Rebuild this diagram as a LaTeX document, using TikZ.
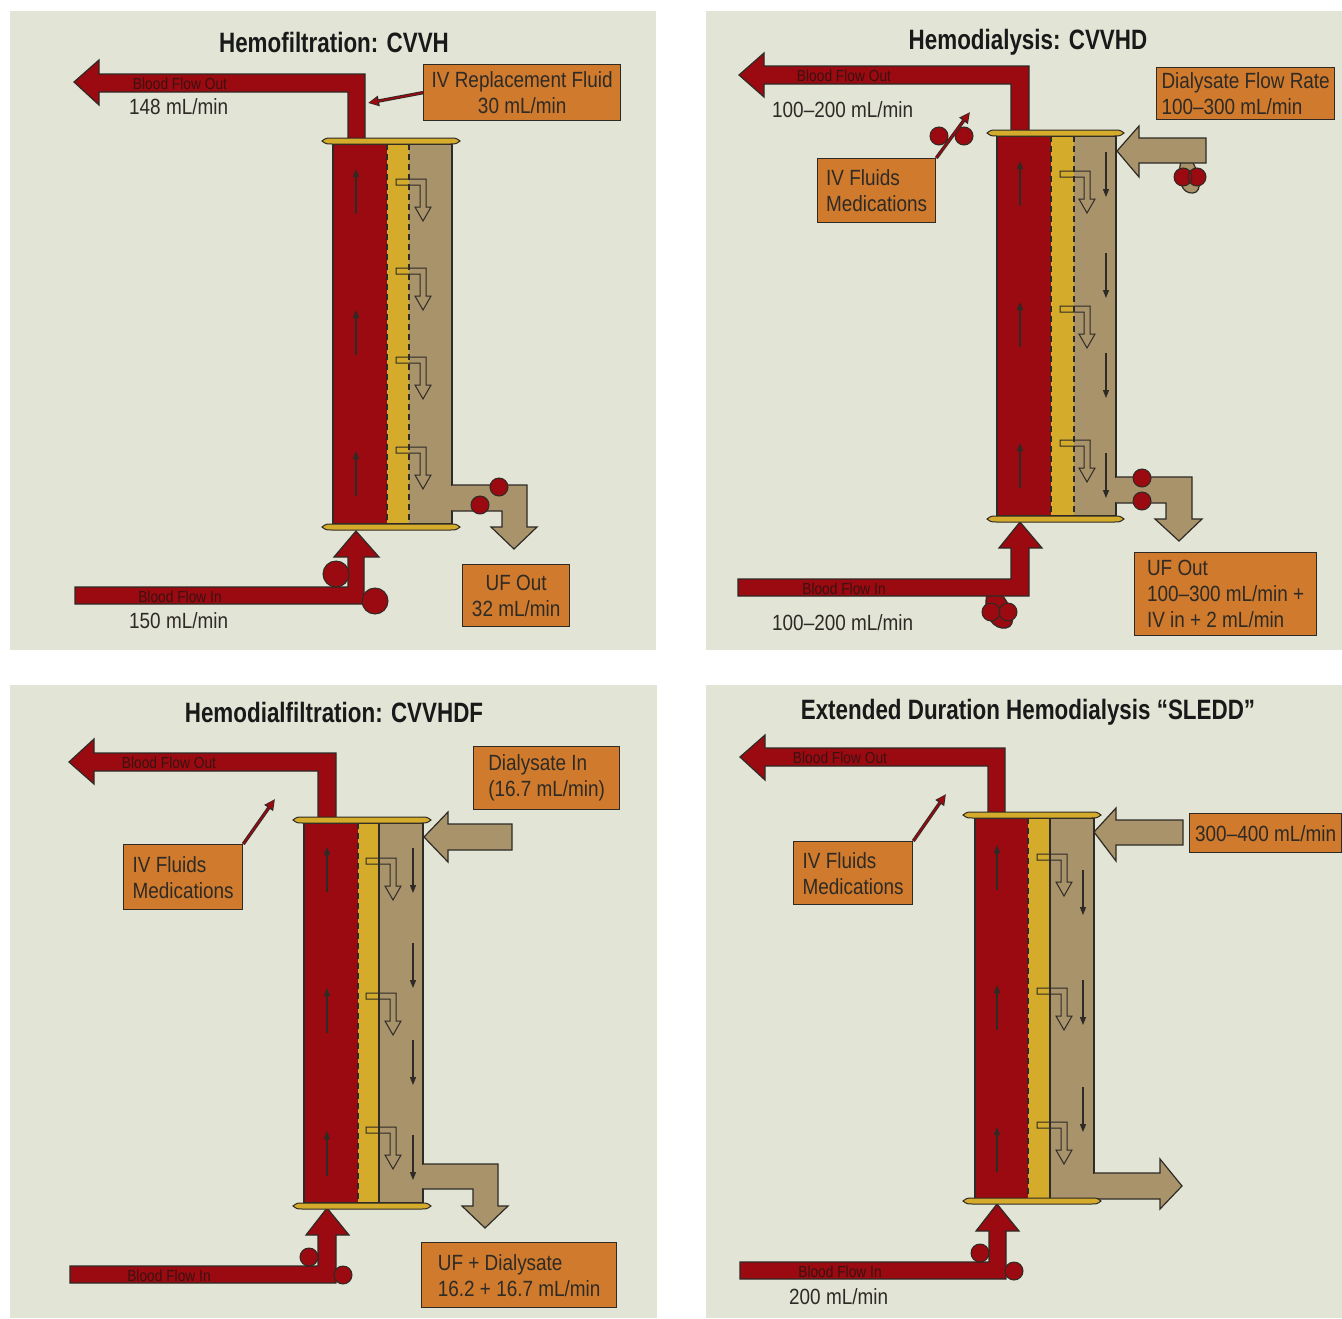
\documentclass[tikz,border=0pt]{standalone}
\usepackage{fontspec}
\setmainfont{Liberation Sans}[FakeStretch=0.86]
\newfontfamily\headfamily{Liberation Sans}[FakeStretch=0.8]
\usepackage{tikz}
\usetikzlibrary{arrows.meta}

\definecolor{panelbg}{HTML}{E2E4D6}
\definecolor{bloodred}{HTML}{9A0A10}
\definecolor{capgold}{HTML}{D4AB2B}
\definecolor{dialtan}{HTML}{A8936A}
\definecolor{boxorange}{HTML}{CF7A2C}
\definecolor{inkdark}{HTML}{2E2A26}
\definecolor{pipeink}{HTML}{3A1212}

\newcommand{\labelsize}{\fontsize{22}{26}\selectfont}
\newcommand{\pipesize}{\fontsize{16}{18}\selectfont}
\newcommand{\headsize}{\headfamily\bfseries\fontsize{28}{32}\selectfont}

\tikzset{
  outline/.style={draw=inkdark, line width=1.2pt},
  bloodpipe/.style={outline, fill=bloodred},
  tanpipe/.style={outline, fill=dialtan},
  roller/.style={outline, fill=bloodred, line width=1pt},
  flowtick/.style={draw=inkdark, line width=1.2pt, -{Triangle[length=8pt,width=6pt]}},
  bentline/.style={draw=inkdark, line width=1pt, line join=miter},
  membrane/.style={dash pattern=on 6pt off 4pt},
  ivshadow/.style={draw=inkdark, line width=3.4pt, -{Triangle[length=11pt,width=10pt]}},
  ivline/.style={draw=bloodred, line width=1.6pt, shorten >=1.5pt, -{Triangle[length=8pt,width=7pt]}},
  infobox/.style={rectangle, fill=boxorange, draw=inkdark, line width=1.3pt,
    font=\labelsize, text=inkdark, align=left, inner sep=0pt, anchor=north west},
  ratelabel/.style={font=\labelsize, text=inkdark, anchor=base west, inner sep=0pt},
  pipelabel/.style={font=\pipesize, text=pipeink, anchor=base, inner sep=0pt},
  paneltitle/.style={font=\headsize, text=black!90, anchor=base, inner sep=0pt},
}

% filter body: left, red|gold, gold|tan, right, top, bottom, gold|tan line
\newcommand{\filtercol}[7]{%
  \fill[bloodred] (#1,#5) rectangle (#2,#6);
  \fill[capgold] (#2,#5) rectangle (#3,#6);
  \fill[dialtan] (#3,#5) rectangle (#4,#6);
  \draw[outline,membrane] (#2,#5) -- (#2,#6);
  \draw[outline,#7] (#3,#5) -- (#3,#6);
  \draw[outline] (#1,#5) rectangle (#4,#6);
}
% header / footer plate of the filter
\newcommand{\filtercap}[3]{%
  \draw[outline, line width=1pt, fill=capgold] (#1,#3) .. controls (#1+4,#3-3) .. (#1+10,#3-3)
    -- (#2-10,#3-3) .. controls (#2-4,#3-3) .. (#2,#3) .. controls (#2-4,#3+3) .. (#2-10,#3+3)
    -- (#1+10,#3+3) .. controls (#1+4,#3+3) .. (#1,#3) -- cycle;
}
% hollow bent arrow through the membrane
\newcommand{\bentarrow}[2]{%
  \draw[bentline] (#1,#2) -- ++(30,0) -- ++(0,28) -- ++(5,0) -- ++(-8,14)
    -- ++(-8,-14) -- ++(5,0) -- ++(0,-22) -- ++(-24,0) -- cycle;
}

\begin{document}
\begin{tikzpicture}[x=1pt,y=-1pt]
\useasboundingbox (0,0) rectangle (1342,1318);
\fill[white] (0,0) rectangle (1342,1318);

%%% CVVH
\fill[panelbg] (10,11) rectangle (656,650);
\node[paneltitle] (cvvh) at (334,52) {Hemofiltration: CVVH};
\draw[bloodpipe] (365,141) -- (365,74) -- (99,74) -- (99,60) -- (74,82) -- (99,105)
  -- (99,92) -- (348,92) -- (348,141) -- cycle;
\draw[bloodpipe] (348,557) -- (334,557) -- (356,531) -- (379,557) -- (364,557)
  -- (364,604) -- (75,604) -- (75,587) -- (348,587) -- cycle;
\filtercol{333}{387}{409}{452}{144}{524}{membrane}
% ultrafiltrate drain
\draw[tanpipe] (452,485) -- (527,485) -- (527,527) -- (537,527) -- (514,549)
  -- (491,527) -- (502,527) -- (502,511) -- (452,511);
\fill[dialtan] (450.4,486) rectangle (453.6,510);
\filtercap{322}{460}{141}
\filtercap{322}{460}{527}
\foreach \y in {169,310,451} {\draw[flowtick] (356,\y+45) -- (356,\y);}
\foreach \y in {179,268,357,447} {\bentarrow{396}{\y}}
\draw[roller] (336,574) circle (13pt) (375,601) circle (13pt);
\draw[roller] (499,487) circle (9pt) (480,505) circle (9pt);
\node[pipelabel] (cvvhout) at (180,89) {Blood Flow Out};
\node[ratelabel] (cvvhoutrate) at (129,114) {148 mL/min};
\node[pipelabel] (cvvhin) at (180,602) {Blood Flow In};
\node[ratelabel] (cvvhinrate) at (129,628) {150 mL/min};
\node[infobox, align=center, minimum width=197pt, minimum height=56pt] (cvvhrepl) at (423,64)
  {IV Replacement Fluid\\30 mL/min};
\coordinate (cvvhport) at (368,103);
\draw[ivshadow] (cvvhrepl.west) -- (cvvhport);
\draw[ivline] (cvvhrepl.west) -- (cvvhport);
\node[infobox, align=center, minimum width=107pt, minimum height=62pt] (cvvhuf) at (462,564)
  {UF Out\\32 mL/min};

%%% CVVHD
\fill[panelbg] (706,11) rectangle (1342,650);
\node[paneltitle] (cvvhd) at (1028,49) {Hemodialysis: CVVHD};
\draw[bloodpipe] (1029,133) -- (1029,66) -- (764,66) -- (764,53) -- (739,75) -- (764,97)
  -- (764,84) -- (1011,84) -- (1011,133) -- cycle;
\draw[bloodpipe] (987,594) .. controls (982,616) and (994,630) .. (1006,628)
  .. controls (1018,626) and (1012,606) .. (1001,594) -- cycle;
\draw[bloodpipe] (1011,548) -- (999,548) -- (1020,522) -- (1042,548) -- (1029,548)
  -- (1029,596) -- (738,596) -- (738,579) -- (1011,579) -- cycle;
\filtercol{997}{1051}{1074}{1116}{136}{516}{membrane}
% dialysate in, with its pump loop
\draw[tanpipe] (1181,161) .. controls (1176,182) and (1183,194) .. (1193,193)
  .. controls (1203,192) and (1200,175) .. (1192,161) -- cycle;
\draw[tanpipe] (1117,151) -- (1139,126) -- (1139,138) -- (1206,138) -- (1206,163)
  -- (1139,163) -- (1139,177) -- cycle;
\draw[tanpipe] (1116,477) -- (1192,477) -- (1192,519) -- (1202,519) -- (1179,541)
  -- (1155,519) -- (1166,519) -- (1166,503) -- (1116,503);
\fill[dialtan] (1114.4,478) rectangle (1117.6,502);
\filtercap{987}{1124}{133}
\filtercap{987}{1124}{519}
\foreach \y in {161,302,443} {\draw[flowtick] (1020,\y+45) -- (1020,\y);}
\foreach \y in {152,253,353,453} {\draw[flowtick] (1106,\y) -- (1106,\y+45);}
\foreach \y in {171,306,440} {\bentarrow{1060}{\y}}
\draw[roller] (939,136) circle (9pt) (964,136) circle (9pt);
\draw[roller] (1183,177) circle (9pt) (1197,177) circle (9pt);
\draw[roller] (1142,478) circle (9pt) (1142,501) circle (9pt);
\draw[roller] (991,612) circle (9pt) (1008,612) circle (9pt);
\node[pipelabel] (cvvhdout) at (844,81) {Blood Flow Out};
\node[ratelabel] (cvvhdoutrate) at (772,117) {100–200 mL/min};
\node[pipelabel] (cvvhdin) at (844,594) {Blood Flow In};
\node[ratelabel] (cvvhdinrate) at (772,630) {100–200 mL/min};
\node[infobox, minimum width=118pt, minimum height=64pt] (cvvhdiv) at (817,158)
  {IV Fluids\\Medications};
\coordinate (cvvhdport) at (970,112);
\draw[ivshadow] (cvvhdiv.north east) -- (cvvhdport);
\draw[ivline] (cvvhdiv.north east) -- (cvvhdport);
\node[infobox, minimum width=178pt, minimum height=52pt] (cvvhddial) at (1156,67)
  {Dialysate Flow Rate\\100–300 mL/min};
\node[infobox, minimum width=182pt, minimum height=83pt] (cvvhduf) at (1134,552)
  {UF Out\\100–300 mL/min +\\IV in + 2 mL/min};

%%% CVVHDF
\fill[panelbg] (10,685) rectangle (657,1318);
\node[paneltitle] (cvvhdf) at (334,722) {Hemodialfiltration: CVVHDF};
\draw[bloodpipe] (336,820) -- (336,753) -- (94,753) -- (94,739) -- (69,762) -- (94,784)
  -- (94,771) -- (318,771) -- (318,820) -- cycle;
\draw[bloodpipe] (318,1235) -- (306,1235) -- (327,1208) -- (349,1235) -- (336,1235)
  -- (336,1283) -- (70,1283) -- (70,1266) -- (318,1266) -- cycle;
\filtercol{304}{358}{379}{423}{823}{1203}{solid}
\draw[tanpipe] (424,837) -- (448,812) -- (448,824) -- (512,824) -- (512,850)
  -- (448,850) -- (448,862) -- cycle;
\draw[tanpipe] (423,1164) -- (498,1164) -- (498,1206) -- (508,1206) -- (485,1228)
  -- (462,1206) -- (473,1206) -- (473,1189) -- (423,1189);
\fill[dialtan] (421.4,1165) rectangle (424.6,1188);
\filtercap{293}{431}{820}
\filtercap{293}{431}{1206}
\foreach \y in {847,988,1131} {\draw[flowtick] (327,\y+45) -- (327,\y);}
\foreach \y in {848,943,1040,1135} {\draw[flowtick] (413,\y) -- (413,\y+45);}
\foreach \y in {858,993,1127} {\bentarrow{366}{\y}}
\draw[roller] (309,1257) circle (9pt) (343,1275) circle (9pt);
\node[pipelabel] (cvvhdfout) at (169,768) {Blood Flow Out};
\node[pipelabel] (cvvhdfin) at (169,1281) {Blood Flow In};
\node[infobox, minimum width=119pt, minimum height=65pt] (cvvhdfiv) at (123,844)
  {IV Fluids\\Medications};
\coordinate (cvvhdfport) at (275,799);
\draw[ivshadow] (cvvhdfiv.north east) -- (cvvhdfport);
\draw[ivline] (cvvhdfiv.north east) -- (cvvhdfport);
\node[infobox, minimum width=146pt, minimum height=63pt] (cvvhdfdial) at (473,746)
  {Dialysate In\\(16.7 mL/min)};
\node[infobox, minimum width=195pt, minimum height=65pt] (cvvhdfuf) at (421,1242)
  {UF + Dialysate\\16.2 + 16.7 mL/min};

%%% SLEDD
\fill[panelbg] (706,685) rectangle (1342,1318);
\node[paneltitle] (sledd) at (1028,719) {Extended Duration Hemodialysis “SLEDD”};
\draw[bloodpipe] (1005,815) -- (1005,748) -- (765,748) -- (765,735) -- (740,757) -- (765,780)
  -- (765,766) -- (988,766) -- (988,815) -- cycle;
\draw[bloodpipe] (989,1231) -- (976,1231) -- (997,1204) -- (1019,1231) -- (1006,1231)
  -- (1006,1279) -- (740,1279) -- (740,1262) -- (989,1262) -- cycle;
\filtercol{975}{1028}{1050}{1094}{818}{1199}{solid}
\draw[tanpipe] (1094,832) -- (1116,808) -- (1116,820) -- (1183,820) -- (1183,845)
  -- (1116,845) -- (1116,861) -- cycle;
\draw[tanpipe] (1094,1173) -- (1160,1173) -- (1160,1159) -- (1182,1186) -- (1160,1209)
  -- (1160,1199) -- (1094,1199);
\fill[dialtan] (1092.4,1174) rectangle (1095.6,1198);
\filtercap{963}{1101}{815}
\filtercap{963}{1101}{1201}
\foreach \y in {845,985,1127} {\draw[flowtick] (997,\y+45) -- (997,\y);}
\foreach \y in {870,980,1087} {\draw[flowtick] (1083,\y) -- (1083,\y+45);}
\foreach \y in {854,988,1122} {\bentarrow{1037}{\y}}
\draw[roller] (980,1253) circle (9pt) (1014,1271) circle (9pt);
\node[pipelabel] (sleddout) at (840,763) {Blood Flow Out};
\node[pipelabel] (sleddin) at (840,1277) {Blood Flow In};
\node[ratelabel] (sleddinrate) at (789,1304) {200 mL/min};
\node[infobox, minimum width=119pt, minimum height=63pt] (sleddiv) at (793,841)
  {IV Fluids\\Medications};
\coordinate (sleddport) at (946,794);
\draw[ivshadow] (sleddiv.north east) -- (sleddport);
\draw[ivline] (sleddiv.north east) -- (sleddport);
\node[infobox, minimum width=152pt, minimum height=39pt] (sledddial) at (1189,813)
  {300–400 mL/min};
\end{tikzpicture}
\end{document}
